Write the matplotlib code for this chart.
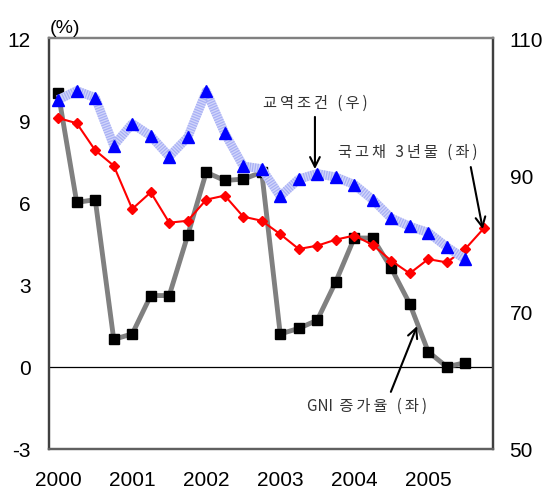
# -*- coding: utf-8 -*-
from matplotlib import pyplot as plt

plt.rcParams['font.family'] = ['Liberation Sans', 'Noto Sans CJK KR', 'DejaVu Sans']
plt.rcParams['axes.unicode_minus'] = False

# 분기별 자료 (2000.1/4 ~ 2005.4/4)
years = ['2000', '2001', '2002', '2003', '2004', '2005']

# GNI 증가율 (좌, %)
gni = [10.0, 6.0, 6.1, 1.0, 1.2, 2.6, 2.6, 4.8, 7.1, 6.8, 6.85, 7.1,
       1.2, 1.4, 1.7, 3.1, 4.7, 4.7, 3.6, 2.3, 0.55, 0.0, 0.15]

# 국고채 3년물 (좌, %)
bond = [9.08, 8.89, 7.9, 7.34, 5.76, 6.37, 5.26, 5.33, 6.1, 6.25, 5.48, 5.33,
        4.84, 4.3, 4.42, 4.64, 4.79, 4.45, 3.87, 3.41, 3.93, 3.81, 4.3, 5.05]

# 교역조건 (우)
tot = [101.0, 102.3, 101.3, 94.3, 97.5, 95.7, 92.7, 95.5, 102.2, 96.1, 91.3, 90.9,
       86.9, 89.4, 90.2, 89.7, 88.6, 86.4, 83.7, 82.5, 81.6, 79.5, 77.7]

fig = plt.figure(figsize=(5.51, 4.89), dpi=100)
ax = fig.add_axes([0.0889, 0.0798, 0.8058, 0.8404])
ax2 = ax.twinx()

# GNI 증가율
ax.plot(range(len(gni)), gni, color='#808080', lw=3.5, zorder=2)
ax.plot(range(len(gni)), gni, ls='none', marker='s', ms=7, color='black', zorder=3)

# 국고채
ax.plot(range(len(bond)), bond, color='red', lw=1.5, marker='D', ms=5.5, zorder=4)

# 교역조건 - 빗금 느낌의 굵은 선
xt = range(len(tot))
ax2.plot(xt, tot, color='#d2d6fb', lw=6.5, solid_capstyle='butt', zorder=1)
ax2.plot(xt, tot, color='#a8b0f4', lw=6.5, dashes=(0.14, 0.14), dash_capstyle='butt', zorder=1)
ax2.plot(xt, tot, ls='none', marker='^', ms=8, color='#0000ff', zorder=3)

ax.axhline(0, color='black', lw=0.9, zorder=1)

ax.set_xlim(-0.5, 23.5)
ax.set_ylim(-3, 12)
ax2.set_ylim(50, 110)
ax.set_yticks([-3, 0, 3, 6, 9, 12])
ax2.set_yticks([50, 70, 90, 110])
ax.set_xticks(range(0, 24, 4))
ax.set_xticklabels(years)

ax.tick_params(axis='y', length=0, labelsize=15, pad=13)
ax.tick_params(axis='x', length=0, labelsize=15, pad=15)
ax2.tick_params(axis='y', length=0, labelsize=15, pad=12)

for a in (ax, ax2):
    a.spines['left'].set_color('#404040')
    a.spines['right'].set_color('#404040')
    a.spines['top'].set_color('#808080')
    a.spines['bottom'].set_color('#606060')
    for s in a.spines.values():
        s.set_linewidth(1.6)

fig.text(0.090, 0.942, '(%)', fontsize=14, va='center', ha='left')

kr = ['Noto Sans CJK KR', 'DejaVu Sans']
tc = '#333333'
sp = '\u2009'  # 글자 사이 간격
ax.text(0.599, 0.844, sp.join('교역조건 (우)'), transform=ax.transAxes, family=kr,
        fontsize=11, color=tc, ha='center', va='center')
ax.text(0.809, 0.725, sp.join('국고채 3년물 (좌)'), transform=ax.transAxes, family=kr,
        fontsize=11, color=tc, ha='center', va='center')
ax.text(0.716, 0.105, 'GNI' + sp.join(' 증가율 (좌)'), transform=ax.transAxes, family=kr,
        fontsize=11, color=tc, ha='center', va='center')

arw = dict(arrowstyle='->,head_length=0.7,head_width=0.35', color='black', lw=1.5,
           shrinkA=0, shrinkB=0)
ax.annotate('', xy=(0.599, 0.681), xytext=(0.599, 0.808), xycoords='axes fraction',
            textcoords='axes fraction', arrowprops=arw, zorder=6)
ax.annotate('', xy=(0.977, 0.535), xytext=(0.950, 0.686), xycoords='axes fraction',
            textcoords='axes fraction', arrowprops=arw, zorder=6)
ax.annotate('', xy=(0.829, 0.299), xytext=(0.770, 0.139), xycoords='axes fraction',
            textcoords='axes fraction', arrowprops=arw, zorder=6)

plt.savefig('out.png')
